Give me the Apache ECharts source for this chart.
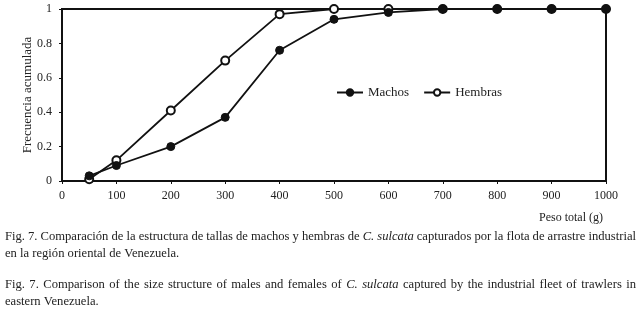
<!DOCTYPE html>
<html>
<head>
<meta charset="utf-8">
<script src="https://cdn.jsdelivr.net/npm/echarts@6/dist/echarts.min.js"></script>
<style>
  html, body { margin: 0; padding: 0; background: #fff; }
  #chart { width: 640px; height: 311px; }
</style>
</head>
<body>
<div id="chart"></div>
<script>
const pesos = [50, 100, 200, 300, 400, 500, 600, 700, 800, 900, 1000];
const machos = [0.03, 0.09, 0.2, 0.37, 0.76, 0.94, 0.98, 1, 1, 1, 1];
const hembras = [0.01, 0.12, 0.41, 0.70, 0.97, 1, 1, 1, 1, 1, 1];

const captionEs = [
  "Fig. 7. Comparación de la estructura de tallas de machos y hembras de C. sulcata capturados por la flota de arrastre industrial",
  "en la región oriental de Venezuela.",
];
const captionEn = [
  "Fig. 7. Comparison of the size structure of males and females of C. sulcata captured by the industrial fleet of trawlers in",
  "eastern Venezuela.",
];
const italicWords = ["C.", "sulcata"];

const font = "Liberation Serif";
const capSize = 12.6;
const chart = echarts.init(document.getElementById("chart"));

const pair = (xs, ys) => xs.map((x, i) => [x, ys[i]]);

// justified caption lines, one text element per word
const ctx = document.createElement("canvas").getContext("2d");
function captionLine(line, y, justify) {
  const words = line.split(" ");
  const widths = words.map((w) => {
    ctx.font = (italicWords.includes(w) ? "italic " : "") + capSize + "px " + font;
    return ctx.measureText(w).width;
  });
  ctx.font = capSize + "px " + font;
  const space = ctx.measureText(" ").width;
  const left = 5, right = 636;
  const total = widths.reduce((a, b) => a + b, 0);
  const gap = justify ? (right - left - total) / (words.length - 1) : space;
  let x = left;
  return words.map((w, i) => {
    const el = {
      type: "text",
      x: x,
      y: y,
      style: {
        text: w, fontFamily: font, fontSize: capSize, fill: "#222",
        fontStyle: italicWords.includes(w) ? "italic" : "normal",
        verticalAlign: "middle",
      },
    };
    x += widths[i] + gap;
    return el;
  });
}

const option = {
  backgroundColor: "#fff",
  animation: false,
  textStyle: { fontFamily: font, color: "#222" },
  grid: { left: 62, right: 34, top: 9, bottom: 130, show: true, borderColor: "#111", borderWidth: 2 },
  legend: {
    left: 331,
    top: 81,
    itemWidth: 26,
    itemHeight: 8,
    itemGap: 14,
    textStyle: { fontFamily: font, fontSize: 13, color: "#222" },
    data: ["Machos", "Hembras"],
  },
  xAxis: {
    type: "value",
    min: 0,
    max: 1000,
    interval: 100,
    axisLine: { show: true, lineStyle: { color: "#111", width: 2 } },
    axisTick: { show: true, length: 3, lineStyle: { color: "#111" } },
    axisLabel: {
      fontFamily: font, fontSize: 12, color: "#222", margin: 9,
      formatter: (v) => String(v),
    },
    splitLine: { show: false },
  },
  yAxis: {
    type: "value",
    min: 0,
    max: 1,
    interval: 0.2,
    name: "Frecuencia acumulada",
    nameLocation: "middle",
    nameGap: 28,
    nameMoveOverlap: false,
    nameTextStyle: { fontFamily: font, fontSize: 13, color: "#222" },
    axisLine: { show: true, lineStyle: { color: "#111", width: 2 } },
    axisTick: { show: true, length: 3, lineStyle: { color: "#111" } },
    axisLabel: {
      fontFamily: font, fontSize: 12, color: "#222", margin: 10,
      formatter: (v) => String(Math.round(v * 10) / 10),
    },
    splitLine: { show: false },
  },
  series: [
    {
      name: "Hembras",
      type: "line",
      data: pair(pesos, hembras),
      symbol: "circle",
      symbolSize: 8,
      lineStyle: { color: "#111", width: 1.8 },
      itemStyle: { color: "#fff", borderColor: "#111", borderWidth: 2 },
      z: 2,
    },
    {
      name: "Machos",
      type: "line",
      data: pair(pesos, machos),
      symbol: "circle",
      symbolSize: 8,
      lineStyle: { color: "#111", width: 1.8 },
      itemStyle: { color: "#111", borderColor: "#111", borderWidth: 1 },
      z: 3,
    },
  ],
  graphic: [
    {
      type: "text",
      right: 37,
      top: 212,
      style: { text: "Peso total (g)", fontFamily: font, fontSize: 12, fill: "#222" },
    },
    ...captionLine(captionEs[0], 237, true),
    ...captionLine(captionEs[1], 254, false),
    ...captionLine(captionEn[0], 285, true),
    ...captionLine(captionEn[1], 302, false),
  ],
};

chart.setOption(option);
</script>
</body>
</html>
